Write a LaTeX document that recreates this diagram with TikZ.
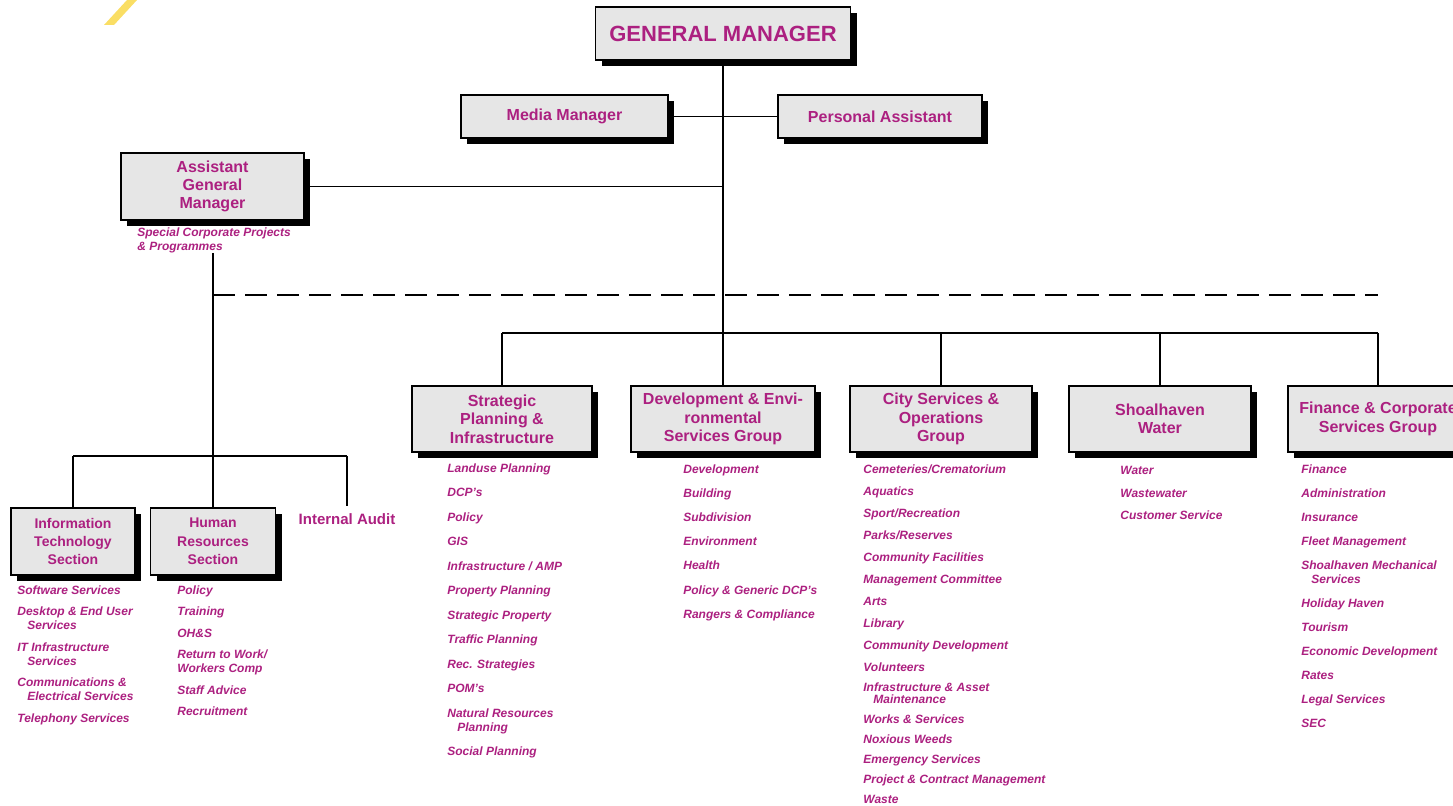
\documentclass[tikz,border=0pt]{standalone}
\usepackage{fontspec}
\setmainfont{Liberation Sans}
\usetikzlibrary{shadows}
\definecolor{orgpink}{RGB}{172,32,128}
\definecolor{boxgrey}{RGB}{230,230,230}
\definecolor{logoyellow}{RGB}{250,222,100}
\begin{document}
\begin{tikzpicture}[x=0.5pt,y=-0.5pt,
  orgbox/.style={draw=black,line width=0.6pt,fill=boxgrey,
    drop shadow={shadow xshift=3pt,shadow yshift=-3pt,fill=black,opacity=1},
    inner sep=0pt,align=center,text=orgpink,
    font=\fontsize{8}{9.2}\selectfont\bfseries},
  secbox/.style={orgbox,minimum width=62pt,minimum height=33.5pt,
    font=\fontsize{7}{9.2}\selectfont\bfseries},
  duties/.style={anchor=north west,inner sep=0pt,align=left,text=orgpink,
    font=\fontsize{6}{7}\selectfont\bfseries\itshape},
  link/.style={line width=0.7pt}]
\useasboundingbox (0,0) rectangle (1453,806);
\clip (0,0) rectangle (1453,806);

% logo corner
\fill[logoyellow] (104,25) -- (114,25) -- (137,0) -- (127,0) -- cycle;

% top of the chart
\node[orgbox,minimum width=127.5pt,minimum height=26.5pt,
  font=\fontsize{11}{13}\selectfont\bfseries] (gm) at (723,33.5) {GENERAL MANAGER};
\node[orgbox,minimum width=103.5pt,minimum height=21.5pt] (media) at (564.5,116.5) {Media Manager};
\node[orgbox,minimum width=102pt,minimum height=21.5pt] (pa) at (880,116.5) {Personal Assistant};
\node[orgbox,minimum width=91.5pt,minimum height=33.5pt] (agm) at (212.5,186.5) {Assistant\\General\\Manager};
\node[duties] (agmnote) at (137,227) {Special Corporate Projects\\\& Programmes};

% groups
\node[orgbox,minimum width=90pt,minimum height=33pt] (spi) at (502,419) {Strategic\\Planning \&\\Infrastructure};
\node[orgbox,minimum width=92pt,minimum height=33pt] (des) at (723,419) {Development \& Envi-\\ronmental\\Services Group};
\node[orgbox,minimum width=91pt,minimum height=33pt] (cso) at (941,419) {City Services \&\\Operations\\Group};
\node[orgbox,minimum width=91pt,minimum height=33pt] (sw) at (1160,419) {Shoalhaven\\Water};
\node[orgbox,minimum width=90pt,minimum height=33pt] (fcs) at (1378,419) {Finance \& Corporate\\Services Group};

% sections under the AGM
\node[secbox] (it) at (73,541.5) {Information\\Technology\\Section};
\node[secbox,minimum width=62.5pt] (hr) at (213,541.5) {Human\\Resources\\Section};
\node[text=orgpink,font=\fontsize{7.5}{9}\selectfont\bfseries] (audit) at (347,519) {Internal Audit};

\coordinate (bus) at (723,333);
\coordinate (dash) at (0,295);
\coordinate (itbus) at (0,456);

% connectors
\draw[link] (gm.south) -- (gm.south |- bus);
\draw[link] (media.east) -- (pa.west);
\draw[link] (agm.east) -- (agm.east -| gm.south);
\draw[link] (spi.north |- bus) -- (fcs.north |- bus);
\foreach \g in {spi,des,cso,sw,fcs}
  \draw[link] (\g.north |- bus) -- (\g.north);
\draw[link,dash pattern=on 11pt off 5pt] (hr.north |- dash) -- (fcs.north |- dash);
\draw[link] (hr.north |- agmnote.south) -- (hr.north);
\draw[link] (it.north |- itbus) -- (audit.north |- itbus);
\foreach \s in {it,audit}
  \draw[link] (\s.north |- itbus) -- (\s.north);

% duties
\node[duties] (itlist) at (17,585) {Software Services\\[3.75pt]
Desktop \& End User\\\hspace*{5pt}Services\\[3.75pt]
IT Infrastructure\\\hspace*{5pt}Services\\[3.75pt]
Communications \&\\\hspace*{5pt}Electrical Services\\[3.75pt]
Telephony Services};

\node[duties] (hrlist) at (177,585) {Policy\\[3.75pt]
Training\\[3.75pt]
OH\&S\\[3.75pt]
Return to Work/\\Workers Comp\\[3.75pt]
Staff Advice\\[3.75pt]
Recruitment};

\node[duties] (spilist) at (447,463) {Landuse Planning\\[5.25pt]
DCP's\\[5.25pt]
Policy\\[5.25pt]
GIS\\[5.25pt]
Infrastructure / AMP\\[5.25pt]
Property Planning\\[5.25pt]
Strategic Property\\[5.25pt]
Traffic Planning\\[5.25pt]
Rec. Strategies\\[5.25pt]
POM's\\[5.25pt]
Natural Resources\\\hspace*{5pt}Planning\\[5.25pt]
Social Planning};

\node[duties] (deslist) at (683,464) {Development\\[5.1pt]
Building\\[5.1pt]
Subdivision\\[5.1pt]
Environment\\[5.1pt]
Health\\[5.1pt]
Policy \& Generic DCP's\\[5.1pt]
Rangers \& Compliance};

\node[duties] (csolist) at (863,464) {Cemeteries/Crematorium\\[4pt]
Aquatics\\[4pt]
Sport/Recreation\\[4pt]
Parks/Reserves\\[4pt]
Community Facilities\\[4pt]
Management Committee\\[4pt]
Arts\\[4pt]
Library\\[4pt]
Community Development\\[4pt]
Volunteers\\[3pt]
Infrastructure \& Asset\\[-1pt]\hspace*{5pt}Maintenance\\[3pt]
Works \& Services\\[3pt]
Noxious Weeds\\[3pt]
Emergency Services\\[3pt]
Project \& Contract Management\\[3pt]
Waste};

\node[duties] (swlist) at (1120,466) {Water\\[4.25pt]
Wastewater\\[4.25pt]
Customer Service};

\node[duties] (fcslist) at (1301,464) {Finance\\[5pt]
Administration\\[5pt]
Insurance\\[5pt]
Fleet Management\\[5pt]
Shoalhaven Mechanical\\\hspace*{5pt}Services\\[5pt]
Holiday Haven\\[5pt]
Tourism\\[5pt]
Economic Development\\[5pt]
Rates\\[5pt]
Legal Services\\[5pt]
SEC};
\end{tikzpicture}
\end{document}
